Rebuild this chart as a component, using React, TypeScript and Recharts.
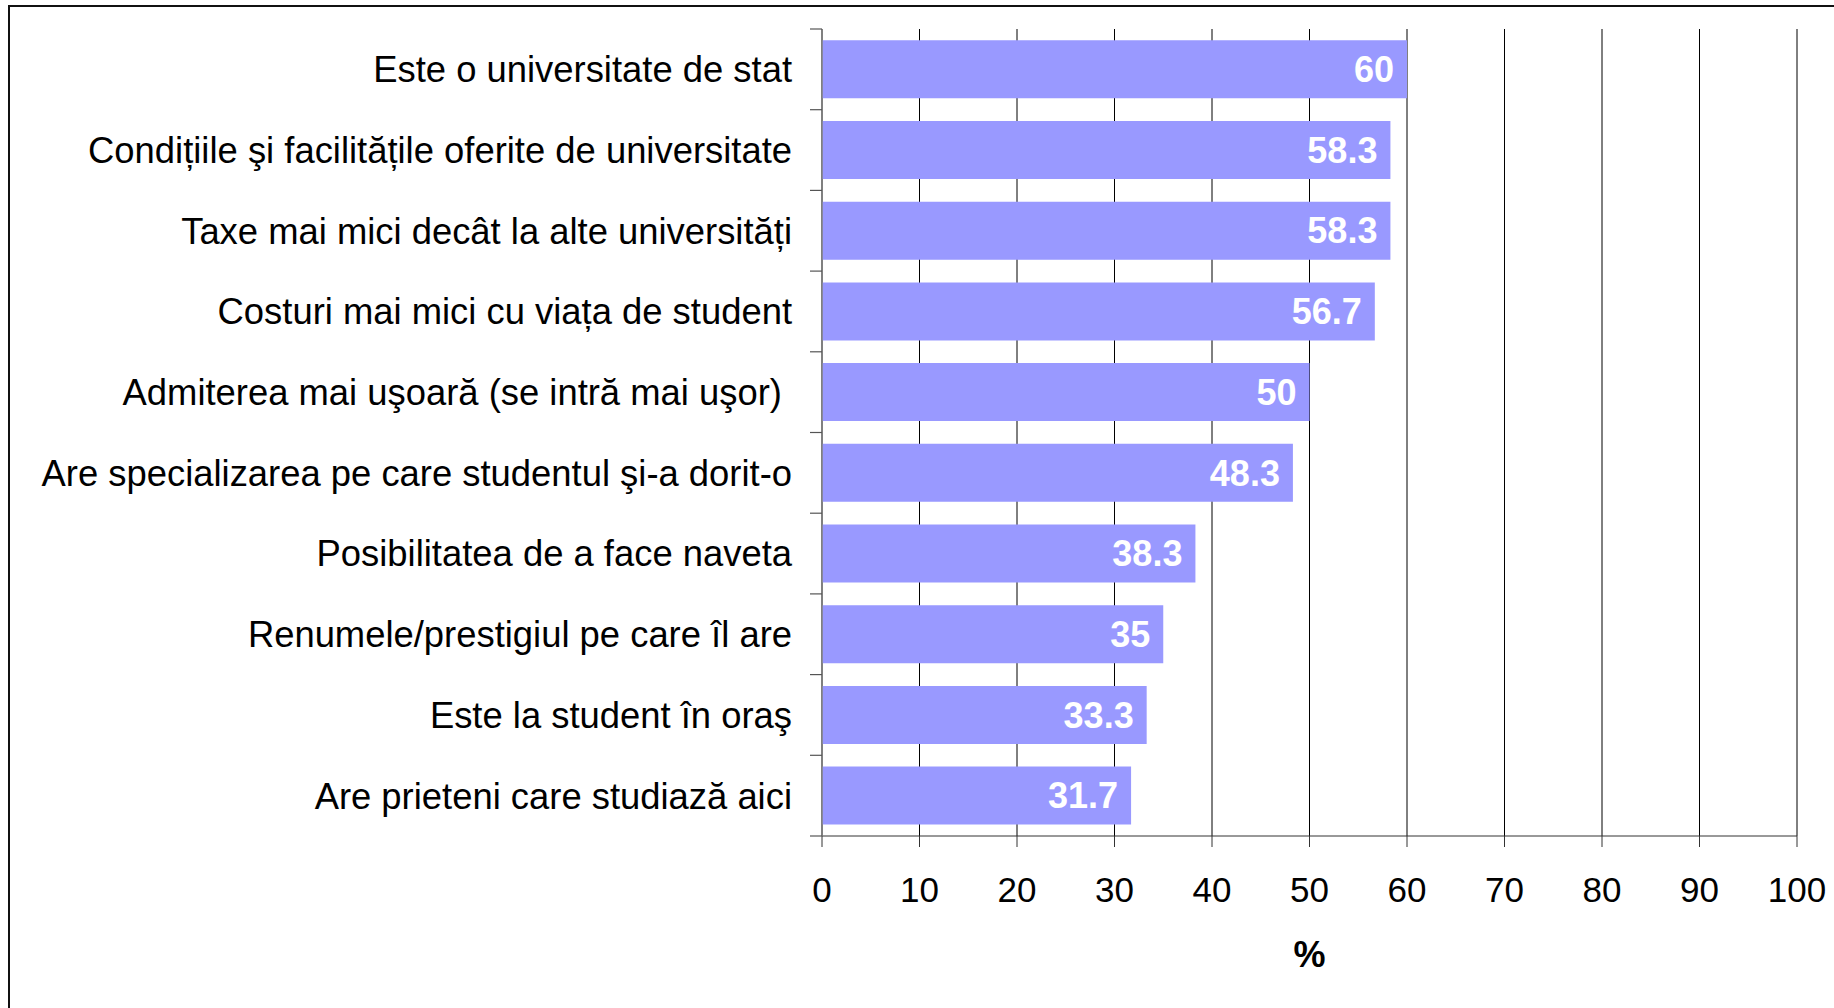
import { BarChart, Bar, XAxis, YAxis, CartesianGrid, LabelList } from 'recharts'

const categories = [
  'Este o universitate de stat',
  'Condițiile şi facilitățile oferite de universitate',
  'Taxe mai mici decât la alte universități',
  'Costuri mai mici cu viața de student',
  'Admiterea mai uşoară (se intră mai uşor)\u00a0',
  'Are specializarea pe care studentul şi-a dorit-o',
  'Posibilitatea de a face naveta',
  'Renumele/prestigiul pe care îl are',
  'Este la student în oraş',
  'Are prieteni care studiază aici',
]
const percents = [60, 58.3, 58.3, 56.7, 50, 48.3, 38.3, 35, 33.3, 31.7]
const xTicks = [0, 10, 20, 30, 40, 50, 60, 70, 80, 90, 100]
const axisTitle = '%'

const W = 1834
const H = 1008
const TOP = 29
const X_AXIS_H = 172
const Y_AXIS_W = 822
const FONT = '"Liberation Sans", Arial, Helvetica, sans-serif'

const data = categories.map((name, i) => ({ name, value: percents[i] }))

// category label + the little boundary tick marks excel draws between bands
function CatTick(props: any) {
  const { x, y, payload, index } = props
  const band = (H - X_AXIS_H - TOP) / categories.length
  const ax = x + 30
  return (
    <g>
      <line x1={ax - 12} x2={ax} y1={y - band / 2} y2={y - band / 2} stroke="#555" strokeWidth={1.2} />
      {index === categories.length - 1 && (
        <line x1={ax - 12} x2={ax} y1={y + band / 2} y2={y + band / 2} stroke="#555" strokeWidth={1.2} />
      )}
      <text x={x} y={y} dy="0.355em" textAnchor="end" fontSize={36.4} fill="#000" fontFamily={FONT}>
        {payload.value}
      </text>
    </g>
  )
}

export default function App() {
  return (
    <div style={{ position: 'absolute', left: 0, top: 0, width: W, height: H, overflow: 'hidden', background: '#fff' }}>
      <div
        style={{
          position: 'absolute', left: 8, top: 5, width: W, height: H,
          borderTop: '2px solid #111', borderLeft: '2px solid #111',
        }}
      />
      <div style={{ position: 'absolute', left: 0, top: 0 }}>
        <BarChart
          width={W}
          height={H}
          data={data}
          layout="vertical"
          margin={{ top: TOP, right: 37, bottom: 0, left: 0 }}
          barCategoryGap="14%"
          style={{ fontFamily: FONT }}
        >
          <CartesianGrid horizontal={false} stroke="#000" strokeWidth={1} />
          <XAxis
            type="number"
            domain={[0, 100]}
            ticks={xTicks}
            height={X_AXIS_H}
            tickSize={11}
            tickMargin={30}
            stroke="#333"
            tick={{ fontSize: 35, fill: '#000' }}
            label={{
              value: axisTitle,
              position: 'insideBottom',
              offset: 41,
              style: { fontSize: 36, fontWeight: 'bold', fill: '#000' },
            }}
          />
          <YAxis
            type="category"
            dataKey="name"
            width={Y_AXIS_W}
            interval={0}
            tickSize={0}
            tickMargin={30}
            tickLine={false}
            axisLine={{ stroke: '#808080', strokeWidth: 1.5 }}
            tick={<CatTick />}
          />
          <Bar dataKey="value" fill="#9999FF" isAnimationActive={false}>
            <LabelList
              dataKey="value"
              position="insideRight"
              offset={13}
              style={{ fontSize: 36, fontWeight: 'bold', fill: '#fff' }}
            />
          </Bar>
        </BarChart>
      </div>
    </div>
  )
}
